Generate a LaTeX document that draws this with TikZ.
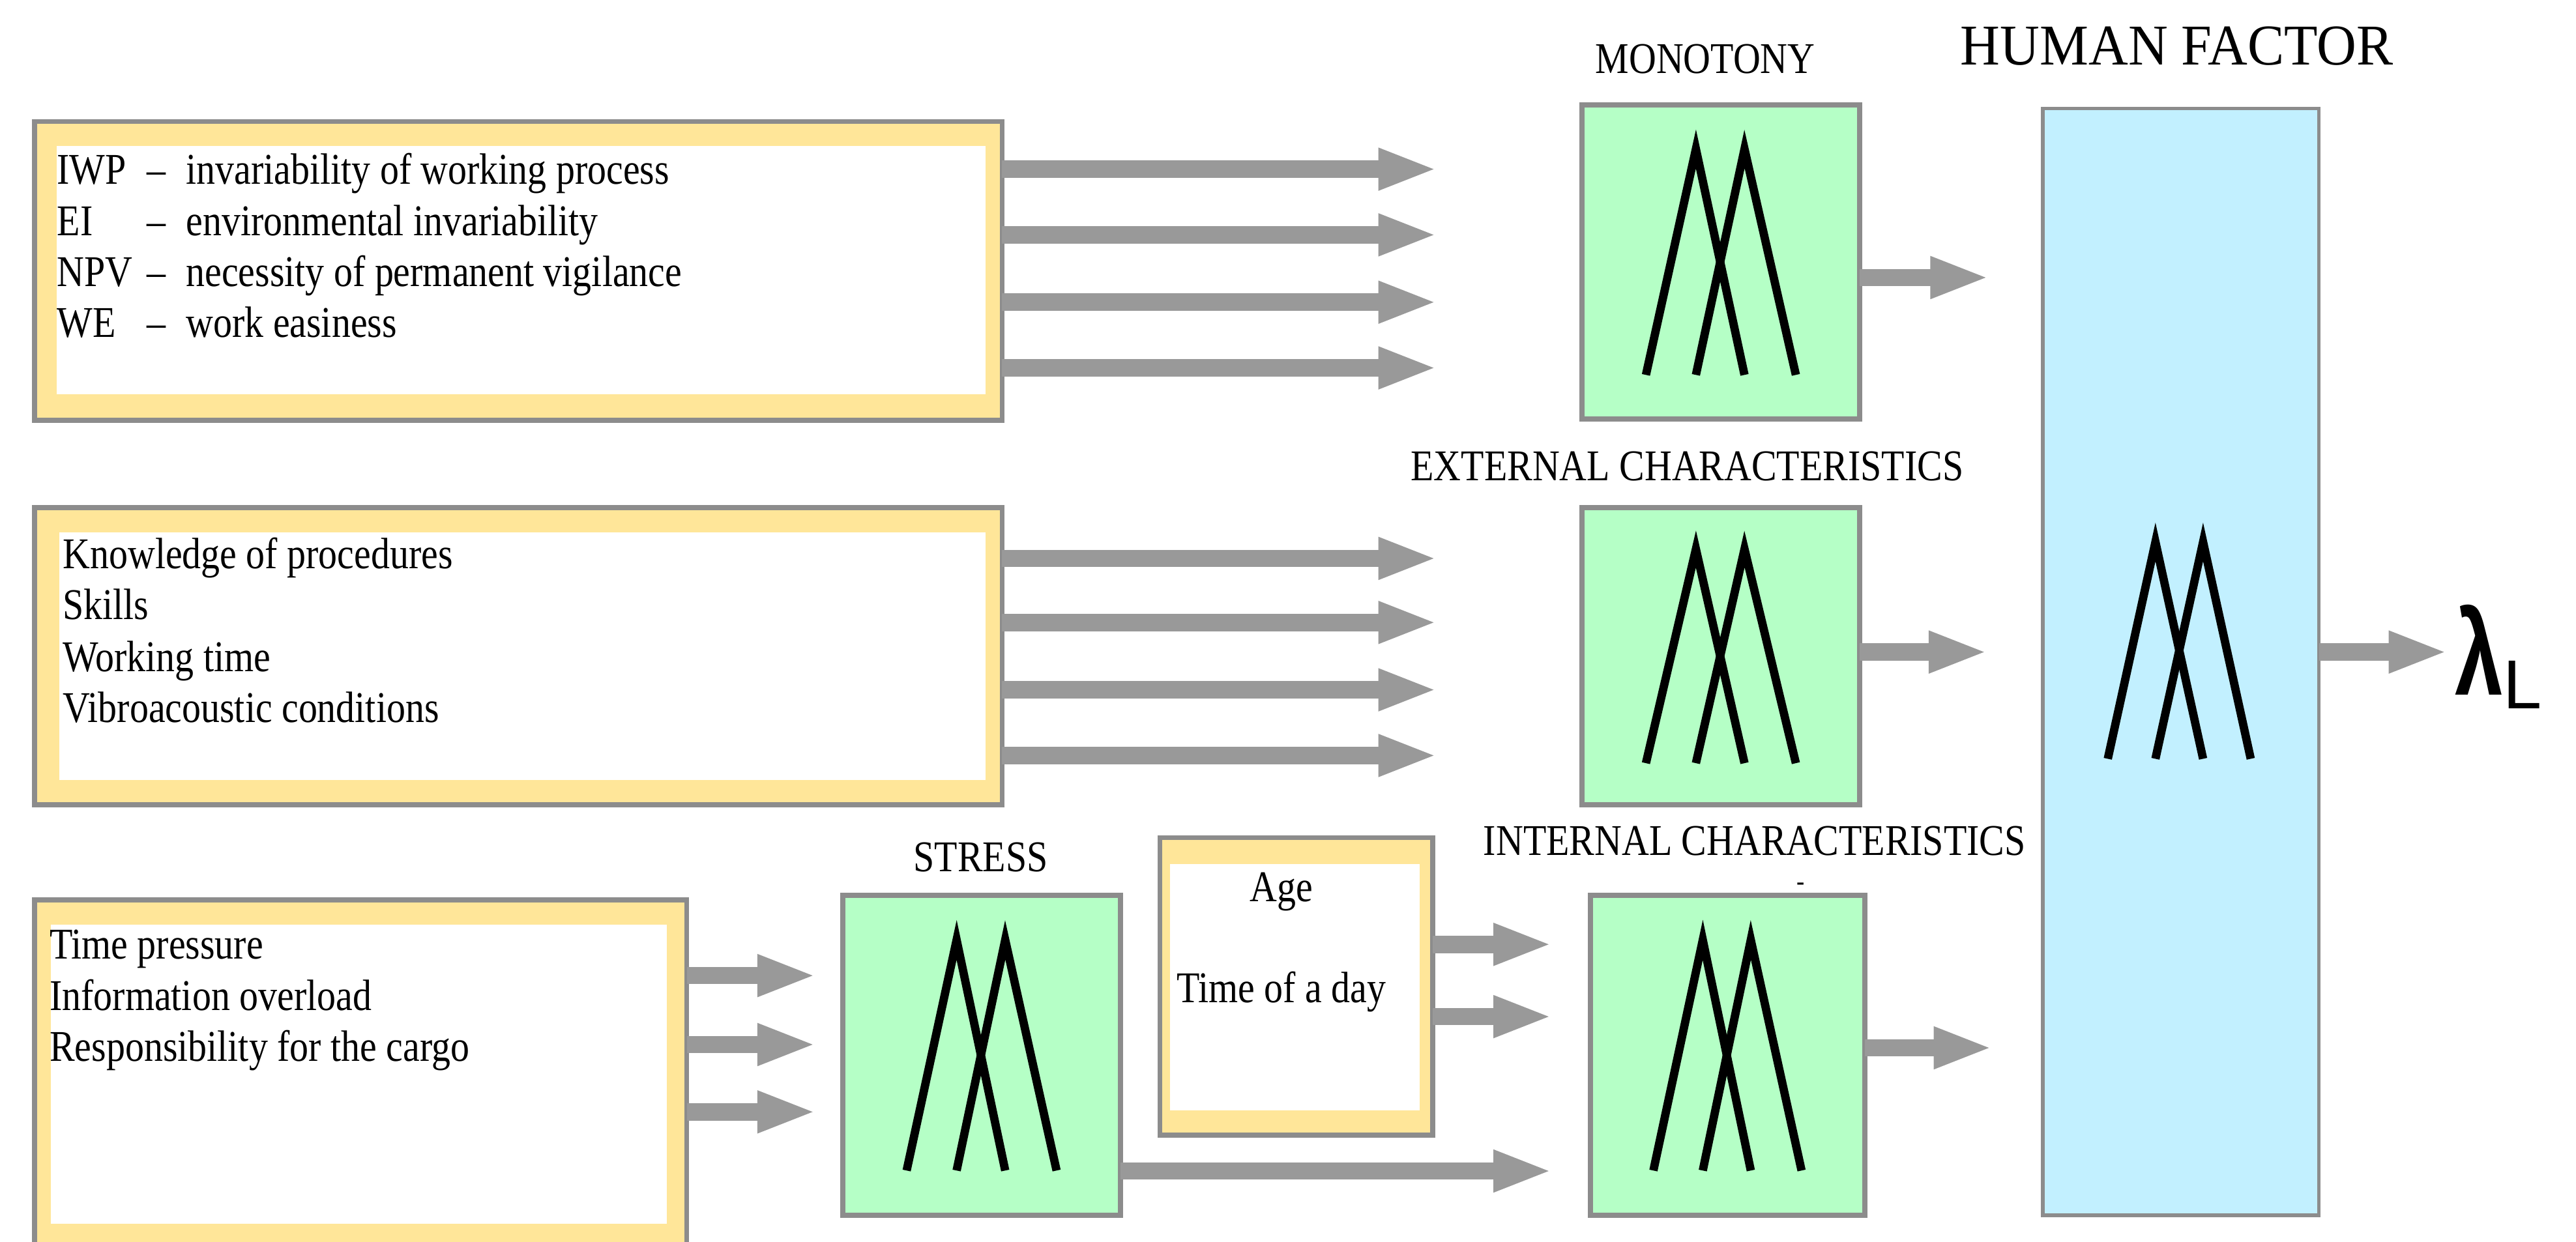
\documentclass[tikz,border=0pt]{standalone}
\usepackage{fontspec}
\setmainfont{Liberation Serif}[FakeStretch=0.86]
\newfontfamily\hf{Liberation Serif}[FakeStretch=0.95]
\newfontfamily\lam{Liberation Sans}
\usetikzlibrary{arrows.meta}
\definecolor{yel}{HTML}{FFE699}
\definecolor{grn}{HTML}{B5FFC6}
\definecolor{blu}{HTML}{C2F0FF}
\definecolor{brd}{HTML}{8C8C8C}
\definecolor{arr}{HTML}{999999}
\tikzset{
  garrow/.style={draw=arr, line width=7.5pt, -{Triangle[length=0.9cm 0 0, width=0.58cm 0 0]}},
  txt/.style={anchor=base west, inner sep=0pt, font=\fontsize{19}{22}\selectfont},
  lbl/.style={inner sep=0pt, font=\fontsize{19}{22}\selectfont},
  mline/.style={line width=3.6pt, black},
  bord/.style={draw=brd, line width=2.2pt}
}
\newcommand\ybox[8]{% outer x1 y1 x2 y2, inner x1 y1 x2 y2
  \filldraw[bord, fill=yel] (#1,-#2) rectangle (#3,-#4);
  \fill[white] (#5,-#6) rectangle (#7,-#8);}
\newcommand\mm[4]{%
  \draw[mline] ({#1+0.23*(#3-#1)},{-(#2+0.86*(#4-#2))}) -- ({#1+0.41*(#3-#1)},{-(#2+0.14*(#4-#2))}) -- ({#1+0.585*(#3-#1)},{-(#2+0.86*(#4-#2))});
  \draw[mline] ({#1+0.41*(#3-#1)},{-(#2+0.86*(#4-#2))}) -- ({#1+0.585*(#3-#1)},{-(#2+0.14*(#4-#2))}) -- ({#1+0.77*(#3-#1)},{-(#2+0.86*(#4-#2))});}
\newcommand\gbox[4]{%
  \filldraw[bord, fill=grn] (#1,-#2) rectangle (#3,-#4);
  \mm{#1}{#2}{#3}{#4}}
\begin{document}
\begin{tikzpicture}[x=0.025cm, y=0.025cm]
\useasboundingbox (0,0) rectangle (1568,-756);
% input boxes
\ybox{21}{74}{610}{256}{34.5}{89}{600}{240}
\ybox{21}{309}{610}{490}{36}{324}{600}{475}
\ybox{21}{548}{418}{759}{31}{563}{406}{745}
\ybox{706}{510}{872}{691}{712}{526}{864}{676}
% box 1 text
\node[txt] (iwp) at (34.5,-112) {IWP};  \node[txt] at (89,-112) {–}; \node[txt] at (113,-112) {invariability of working process};
\node[txt] (ei) at (34.5,-143.5) {EI};  \node[txt] at (89,-143.5) {–}; \node[txt] at (113,-143.5) {environmental invariability};
\node[txt] (npv) at (34.5,-174.5) {NPV}; \node[txt] at (89,-174.5) {–}; \node[txt] at (113,-174.5) {necessity of permanent vigilance};
\node[txt] (we) at (34.5,-205.5) {WE};  \node[txt] at (89,-205.5) {–}; \node[txt] at (113,-205.5) {work easiness};
% box 2 text
\node[txt] at (38,-346) {Knowledge of procedures};
\node[txt] at (38,-377) {Skills};
\node[txt] at (38,-409) {Working time};
\node[txt] at (38,-440) {Vibroacoustic conditions};
% box 3 text
\node[txt] at (30,-584) {Time pressure};
\node[txt] at (30,-615) {Information overload};
\node[txt] at (30,-646) {Responsibility for the cargo};
% age box
\node[lbl] (age) at (780,-543) {Age};
\node[lbl] (tod) at (780,-604) {Time of a day};
% green boxes
\gbox{963}{64}{1132}{255}
\gbox{963}{309}{1132}{490}
\gbox{513}{545}{682}{740}
\gbox{968}{545}{1135}{740}
% human factor
\filldraw[draw=brd, line width=1.6pt, fill=blu] (1243.5,-66) rectangle (1411.5,-740);
\draw[mline] (1283,-462) -- (1312,-330) -- (1341,-462);
\draw[mline] (1312,-462) -- (1341,-330) -- (1370,-462);
% labels
\node[lbl] (mono) at (1038,-36) {MONOTONY};
\node[lbl] (ext) at (1027,-284) {EXTERNAL CHARACTERISTICS};
\node[lbl] (int) at (1068,-512) {INTERNAL CHARACTERISTICS};
\node[lbl] (str) at (597,-522) {STRESS};
\node[inner sep=0pt, font=\hf\fontsize{25}{28}\selectfont] (hf) at (1325,-28) {HUMAN FACTOR};
\node[inner sep=0pt, font=\fontsize{12}{12}\selectfont] (dot) at (1096,-540) {-};
\node[inner sep=0pt, anchor=west] (lamL) at (1494,-400) {\lam\scalebox{0.72}[1]{\fontsize{52}{52}\selectfont\bfseries λ}\fontsize{30}{30}\selectfont\raisebox{-6pt}{L}};
% arrows
\foreach \y in {103,143,184,224} \draw[garrow] (610,-\y) -- (875,-\y);
\foreach \y in {340,379,420,460} \draw[garrow] (610,-\y) -- (875,-\y);
\foreach \y in {594,636,677} \draw[garrow] (418,-\y) -- (497,-\y);
\foreach \y in {575,619} \draw[garrow] (872,-\y) -- (945,-\y);
\draw[garrow] (682,-713) -- (945,-713);
\draw[garrow] (1132,-169) -- (1211,-169);
\draw[garrow] (1132,-397) -- (1210,-397);
\draw[garrow] (1135,-638) -- (1213,-638);
\draw[garrow] (1411.5,-397) -- (1490,-397);
\end{tikzpicture}
\end{document}
